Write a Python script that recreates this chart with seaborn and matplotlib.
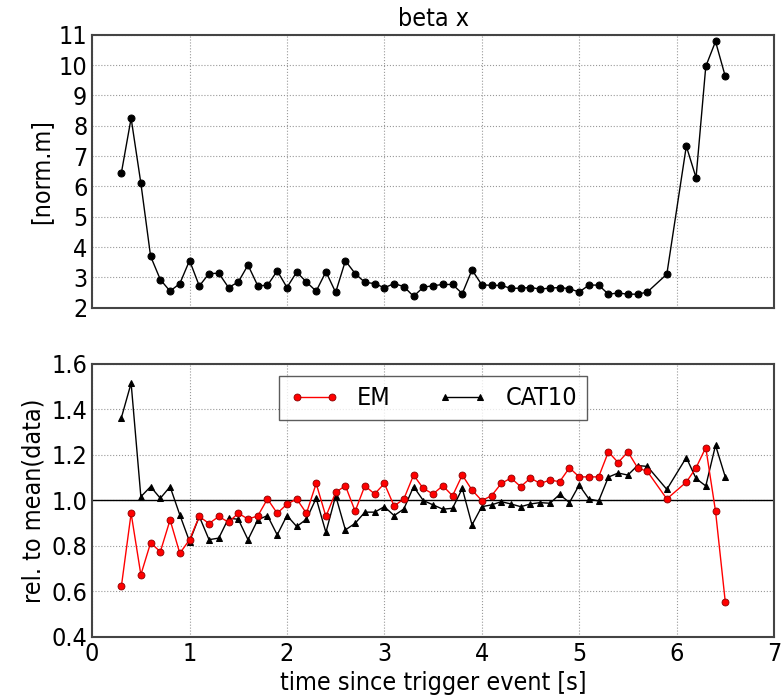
import numpy as np
import pandas as pd
import matplotlib
matplotlib.use("Agg")
import matplotlib.pyplot as plt
import seaborn as sns

# ---- data ----
times = [0.3, 0.4, 0.5, 0.6, 0.7, 0.8, 0.9, 1.0, 1.1, 1.2, 1.3, 1.4, 1.5, 1.6, 1.7,
         1.8, 1.9, 2.0, 2.1, 2.2, 2.3, 2.4, 2.5, 2.6, 2.7, 2.8, 2.9, 3.0, 3.1, 3.2,
         3.3, 3.4, 3.5, 3.6, 3.7, 3.8, 3.9, 4.0, 4.1, 4.2, 4.3, 4.4, 4.5, 4.6, 4.7,
         4.8, 4.9, 5.0, 5.1, 5.2, 5.3, 5.4, 5.5, 5.6, 5.7, 5.9, 6.1, 6.2, 6.3, 6.4, 6.5]

beta_x = [6.45, 8.25, 6.11, 3.70, 2.93, 2.55, 2.80, 3.56, 2.72, 3.13, 3.14, 2.67, 2.85, 3.41, 2.73,
          2.74, 3.22, 2.67, 3.18, 2.85, 2.55, 3.19, 2.51, 3.55, 3.13, 2.84, 2.80, 2.66, 2.80, 2.70,
          2.38, 2.68, 2.73, 2.77, 2.77, 2.47, 3.25, 2.76, 2.74, 2.74, 2.64, 2.65, 2.67, 2.62, 2.65,
          2.67, 2.63, 2.52, 2.75, 2.75, 2.45, 2.49, 2.45, 2.45, 2.52, 3.11, 7.33, 6.29, 9.96, 10.78, 9.63]

em = [0.622, 0.943, 0.673, 0.813, 0.774, 0.914, 0.767, 0.827, 0.929, 0.898, 0.929, 0.904, 0.943, 0.918, 0.931,
      1.006, 0.943, 0.983, 1.006, 0.943, 1.074, 0.929, 1.035, 1.064, 0.952, 1.064, 1.028, 1.074, 0.975, 1.006,
      1.111, 1.052, 1.028, 1.064, 1.020, 1.111, 1.045, 0.999, 1.020, 1.074, 1.098, 1.060, 1.098, 1.074, 1.089,
      1.082, 1.143, 1.103, 1.103, 1.103, 1.213, 1.166, 1.213, 1.143, 1.127, 1.006, 1.080, 1.143, 1.232, 0.952, 0.554]

cat10 = [1.363, 1.515, 1.016, 1.060, 1.009, 1.060, 0.936, 0.819, 0.929, 0.827, 0.834, 0.921, 0.917, 0.827, 0.914,
         0.933, 0.848, 0.933, 0.885, 0.917, 1.009, 0.859, 1.020, 0.870, 0.899, 0.948, 0.948, 0.972, 0.933, 0.962,
         1.060, 0.999, 0.980, 0.961, 0.965, 1.052, 0.892, 0.972, 0.980, 0.994, 0.984, 0.972, 0.984, 0.990, 0.987,
         1.026, 0.990, 1.067, 1.006, 0.997, 1.102, 1.120, 1.111, 1.153, 1.149, 1.048, 1.188, 1.096, 1.063, 1.242, 1.103]

top_yticks = [2, 3, 4, 5, 6, 7, 8, 9, 10, 11]
bot_yticks = [0.4, 0.6, 0.8, 1.0, 1.2, 1.4, 1.6]
xticks = [0, 1, 2, 3, 4, 5, 6, 7]

title = "beta x"
top_ylabel = "[norm.m]"
bot_ylabel = "rel. to mean(data)"
xlabel = "time since trigger event [s]"

# ---- style ----
sns.set_style("whitegrid", {
    "grid.linestyle": ":",
    "grid.color": "#999999",
    "axes.edgecolor": "#444444",
    "xtick.direction": "in",
    "ytick.direction": "in",
    "text.color": "black",
    "axes.labelcolor": "black",
    "xtick.color": "black",
    "ytick.color": "black",
})
plt.rcParams["font.family"] = ["DejaVu Sans"]
plt.rcParams["font.stretch"] = "condensed"
plt.rcParams["axes.linewidth"] = 1.5

df_top = pd.DataFrame({"t": times, "beta": beta_x})
df_bot = pd.DataFrame({"t": times, "EM": em, "CAT10": cat10})

fig, (ax1, ax2) = plt.subplots(2, 1, figsize=(7.81, 6.96), dpi=100)
fig.subplots_adjust(left=0.118, right=0.991, top=0.950, bottom=0.085, hspace=0.205)

fs = 18
ms = 5

sns.lineplot(data=df_top, x="t", y="beta", ax=ax1, color="black", marker="o",
             markersize=ms, markeredgecolor="black", linewidth=1.0,
             estimator=None, sort=False)
ax1.set_xlim(0, 7)
ax1.set_ylim(2, 11)
ax1.set_xticks(xticks)
ax1.set_xticklabels([])
ax1.set_yticks(top_yticks)
ax1.set_yticklabels([str(v) for v in top_yticks], fontsize=fs)
ax1.set_xlabel("")
ax1.set_ylabel(top_ylabel, fontsize=fs, color="black")
ax1.set_title(title, fontsize=fs, color="black")

ax2.axhline(1.0, color="black", linewidth=1.0, zorder=1)
sns.lineplot(data=df_bot, x="t", y="EM", ax=ax2, color="red", marker="o",
             markersize=ms, markeredgecolor="#8b0000", markeredgewidth=0.6,
             linewidth=1.0, estimator=None, sort=False, label="EM", zorder=3)
sns.lineplot(data=df_bot, x="t", y="CAT10", ax=ax2, color="black", marker="^",
             markersize=ms, markeredgecolor="black", linewidth=1.0,
             estimator=None, sort=False, label="CAT10", zorder=2)
ax2.set_xlim(0, 7)
ax2.set_ylim(0.4, 1.6)
ax2.set_xticks(xticks)
ax2.set_xticklabels([str(v) for v in xticks], fontsize=fs)
ax2.set_yticks(bot_yticks)
ax2.set_yticklabels([f"{v:.1f}" for v in bot_yticks], fontsize=fs)
ax2.set_xlabel(xlabel, fontsize=fs, color="black")
ax2.set_ylabel(bot_ylabel, fontsize=fs, color="black")

leg = ax2.legend(loc="upper center", ncol=2, fontsize=fs, numpoints=2,
                 fancybox=False, frameon=True,
                 handlelength=2.0, handletextpad=0.7, columnspacing=1.9,
                 borderpad=0.4, borderaxespad=0.5)
leg.get_frame().set_edgecolor("#333333")
leg.get_frame().set_linewidth(1.0)
for t in leg.get_texts():
    t.set_color("black")

for ax in (ax1, ax2):
    ax.tick_params(length=4, color="black", labelcolor="black")
    for s in ax.spines.values():
        s.set_color("#444444")

fig.savefig("out.png", dpi=100)
